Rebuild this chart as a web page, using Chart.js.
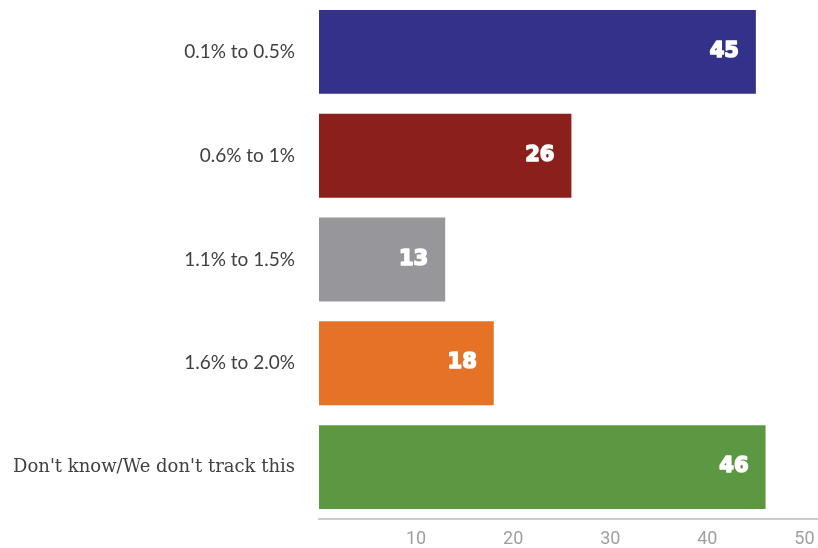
<!DOCTYPE html>
<html><head><meta charset="utf-8">
<script src="https://cdn.jsdelivr.net/npm/chart.js@4/dist/chart.umd.min.js"></script>
<style>html,body{margin:0;padding:0;background:#fff}#wrap{width:818px;height:548px}</style>
</head><body><div id="wrap"><canvas id="c" width="818" height="548"></canvas></div>
<script>
const categories = ["0.1% to 0.5%", "0.6% to 1%", "1.1% to 1.5%", "1.6% to 2.0%", "Don't know/We don't track this"];
const values = [45, 26, 13, 18, 46];
const barColors = ["#333189", "#8b1f1b", "#97979b", "#e57226", "#5c9841"];
const xTicks = [10, 20, 30, 40, 50];

const valueLabels = {
  id: 'valueLabels',
  afterDatasetsDraw(chart) {
    const ctx = chart.ctx;
    const meta = chart.getDatasetMeta(0);
    ctx.save();
    ctx.fillStyle = '#ffffff';
    ctx.strokeStyle = '#ffffff';
    ctx.lineWidth = 1.6;
    ctx.lineJoin = 'round';
    ctx.font = 'bold 21px "DejaVu Sans", sans-serif';
    ctx.textAlign = 'right';
    ctx.textBaseline = 'alphabetic';
    meta.data.forEach((bar, i) => {
      ctx.strokeText(String(values[i]), bar.x - 17, bar.y + 5);
      ctx.fillText(String(values[i]), bar.x - 17, bar.y + 5);
    });
    ctx.restore();
  }
};

new Chart(document.getElementById('c'), {
  type: 'bar',
  data: {
    labels: categories,
    datasets: [{ data: values, backgroundColor: barColors, borderWidth: 0,
      barPercentage: 0.808, categoryPercentage: 1.0 }]
  },
  options: {
    indexAxis: 'y',
    responsive: false,
    animation: false,
    layout: { padding: { top: -2, right: 0, bottom: 0, left: 0 } },
    plugins: { legend: { display: false }, tooltip: { enabled: false } },
    scales: {
      x: {
        min: 0, max: 51.4,
        afterBuildTicks(axis) { axis.ticks = xTicks.map(v => ({ value: v })); },
        afterFit(axis) { axis.height = 29; axis.paddingLeft = 0; axis.paddingRight = 0; axis.paddingTop = -2; axis.paddingBottom = 0; },
        grid: { display: false, drawTicks: false },
        border: { display: true, color: '#cccccc', width: 2 },
        ticks: { color: '#a0a0a0', font: { family: 'Roboto', size: 18, lineHeight: 1.0 }, padding: 11 }
      },
      y: {
        grid: { display: false, drawTicks: false },
        border: { display: false },
        afterFit(axis) { axis.width = 319; axis.paddingTop = -2; axis.paddingBottom = 0; },
        ticks: {
          color: '#404040',
          font: (c) => c.index === 4
            ? { family: '"DejaVu Serif"', size: 18, weight: 'normal' }
            : { family: 'Lato', size: 19, weight: 'normal' },
          padding: 24
        }
      }
    }
  },
  plugins: [valueLabels]
});
</script></body></html>
